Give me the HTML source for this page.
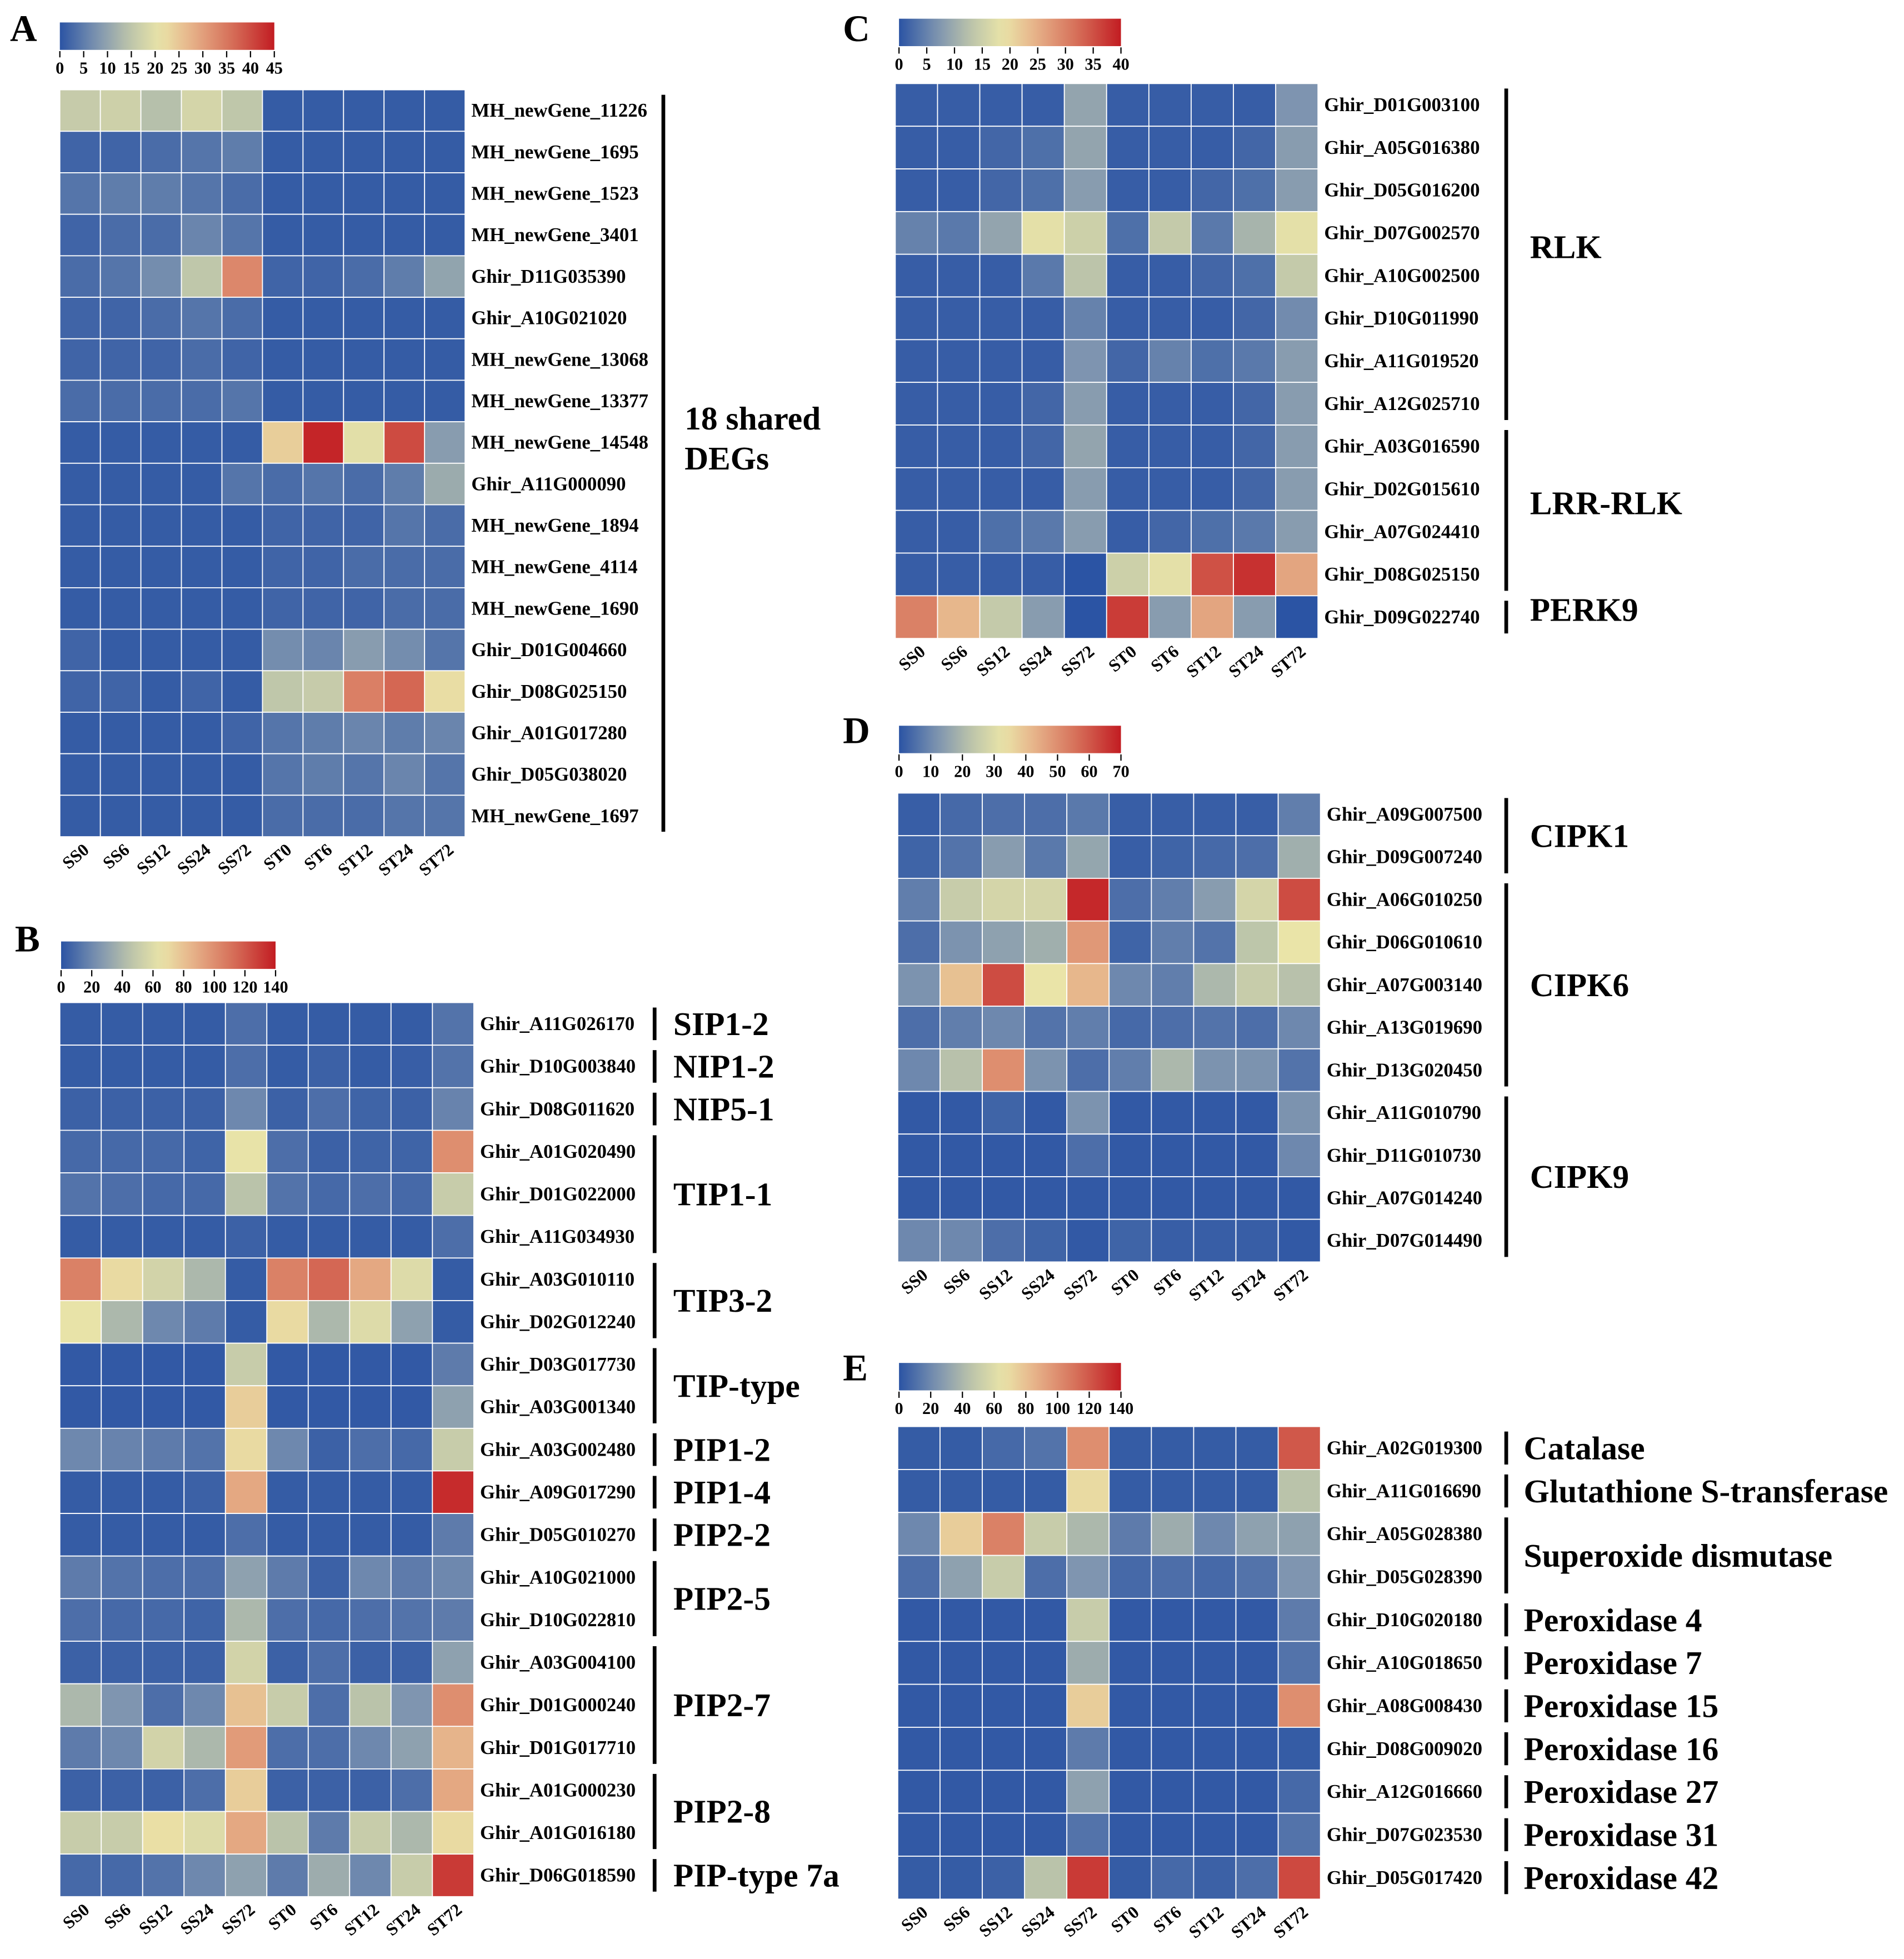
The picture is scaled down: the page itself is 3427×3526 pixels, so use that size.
<!DOCTYPE html>
<html><head><meta charset="utf-8"><style>
html,body{margin:0;padding:0;background:#fff}
svg{display:block}
text{font-family:"Liberation Serif",serif;font-weight:bold;fill:#000}
</style></head><body>
<svg id="fig" xmlns="http://www.w3.org/2000/svg" width="3427" height="3526" viewBox="0 0 1527 1571" preserveAspectRatio="none"></svg>
<script>
const columns = ["SS0","SS6","SS12","SS24","SS72","ST0","ST6","ST12","ST24","ST72"];

const genesA = ["MH_newGene_11226","MH_newGene_1695","MH_newGene_1523","MH_newGene_3401","Ghir_D11G035390","Ghir_A10G021020","MH_newGene_13068","MH_newGene_13377","MH_newGene_14548","Ghir_A11G000090","MH_newGene_1894","MH_newGene_4114","MH_newGene_1690","Ghir_D01G004660","Ghir_D08G025150","Ghir_A01G017280","Ghir_D05G038020","MH_newGene_1697"];
const valuesA = [
[16,17,14,18,15,1,1,1,1,1],[2,2,3,4,5,1,1,1,1,1],[4,5,5,4,3,1,1,1,1,1],[2,3,3,6,4,1,1,1,1,1],
[3,4,7,15,33,2,2,3,5,10],[2,2,3,4,3,1,1,1,1,1],[2,2,2,3,2,1,1,1,1,1],[3,3,3,3,4,1,1,1,1,1],
[1,1,1,1,1,24,44,20,40,9],[1,1,1,1,4,3,4,3,5,11],[1,1,1,1,1,2,2,2,4,3],[1,1,1,1,1,2,2,3,3,3],
[1,1,1,1,1,2,2,2,3,3],[2,1,1,1,1,7,6,9,7,4],[2,2,1,2,1,15,16,34,37,22],[1,1,1,1,2,4,5,6,5,6],
[1,1,1,1,1,4,5,4,6,4],[1,1,1,1,1,3,3,3,4,4]];
const ticksA = [0,5,10,15,20,25,30,35,40,45];

const genesB = ["Ghir_A11G026170","Ghir_D10G003840","Ghir_D08G011620","Ghir_A01G020490","Ghir_D01G022000","Ghir_A11G034930","Ghir_A03G010110","Ghir_D02G012240","Ghir_D03G017730","Ghir_A03G001340","Ghir_A03G002480","Ghir_A09G017290","Ghir_D05G010270","Ghir_A10G021000","Ghir_D10G022810","Ghir_A03G004100","Ghir_D01G000240","Ghir_D01G017710","Ghir_A01G000230","Ghir_A01G016180","Ghir_D06G018590"];
const valuesB = [
[3,3,3,3,10,3,3,3,3,12],[3,3,3,3,10,3,5,3,4,12],[5,5,5,5,20,5,10,6,5,18],[8,8,8,6,65,10,5,6,6,100],
[12,10,8,8,45,12,8,10,8,50],[3,3,3,3,5,3,3,3,3,10],[105,70,55,40,3,105,115,90,60,3],[65,40,20,15,3,70,40,60,30,3],
[2,2,2,2,50,2,2,2,2,15],[2,2,2,2,75,2,2,2,2,30],[20,18,15,12,70,20,5,10,8,50],[3,3,3,5,90,3,3,3,3,135],
[3,3,3,3,10,3,3,3,3,15],[15,12,10,10,30,15,5,20,15,20],[10,8,8,6,40,10,8,10,12,15],[5,5,5,5,55,5,10,5,5,30],
[40,25,10,20,80,50,10,45,25,100],[15,20,55,40,95,10,10,20,30,85],[5,5,5,10,75,5,5,5,10,90],
[50,50,68,60,90,45,15,50,40,70],[8,8,12,20,30,15,35,20,50,130]];
const ticksB = [0,20,40,60,80,100,120,140];
const groupsB = [["SIP1-2",0,0],["NIP1-2",1,1],["NIP5-1",2,2],["TIP1-1",3,5],["TIP3-2",6,7],["TIP-type",8,9],["PIP1-2",10,10],["PIP1-4",11,11],["PIP2-2",12,12],["PIP2-5",13,14],["PIP2-7",15,17],["PIP2-8",18,19],["PIP-type 7a",20,20]];

const genesC = ["Ghir_D01G003100","Ghir_A05G016380","Ghir_D05G016200","Ghir_D07G002570","Ghir_A10G002500","Ghir_D10G011990","Ghir_A11G019520","Ghir_A12G025710","Ghir_A03G016590","Ghir_D02G015610","Ghir_A07G024410","Ghir_D08G025150","Ghir_D09G022740"];
const valuesC = [
[1,1,1,1,9,1,1,1,1,7],[1,1,2,3,9,1,1,1,2,8],[1,1,2,3,8,1,1,2,3,8],[5,4,9,18,15,3,14,4,11,18],
[1,1,1,4,13,1,1,2,3,14],[1,1,1,1,5,1,1,1,2,6],[1,1,1,1,7,2,5,3,4,8],[1,1,1,2,8,1,1,1,2,8],
[1,1,1,2,9,1,1,1,2,8],[1,1,1,1,8,1,1,1,2,8],[1,1,3,4,8,1,2,3,4,8],[1,1,1,1,0,15,18,35,38,26],
[30,24,14,8,0,37,8,26,8,0]];
const ticksC = [0,5,10,15,20,25,30,35,40];
const groupsC = [["RLK",0,7],["LRR-RLK",8,11],["PERK9",12,12]];

const genesD = ["Ghir_A09G007500","Ghir_D09G007240","Ghir_A06G010250","Ghir_D06G010610","Ghir_A07G003140","Ghir_A13G019690","Ghir_D13G020450","Ghir_A11G010790","Ghir_D11G010730","Ghir_A07G014240","Ghir_D07G014490"];
const valuesD = [
[2,4,5,5,7,2,2,2,2,8],[3,6,14,7,16,2,3,4,5,18],[8,25,28,28,68,5,8,14,28,62],[5,12,15,18,48,3,8,6,23,33],
[12,40,62,33,42,10,8,20,25,22],[5,8,10,6,8,4,5,6,5,10],[10,22,50,12,5,8,20,12,12,6],[1,1,3,1,12,1,1,1,1,12],
[1,1,1,1,5,1,1,1,1,10],[1,1,1,1,1,1,1,1,1,1],[10,10,5,3,1,3,2,2,2,1]];
const ticksD = [0,10,20,30,40,50,60,70];
const groupsD = [["CIPK1",0,1],["CIPK6",2,6],["CIPK9",7,10]];

const genesE = ["Ghir_A02G019300","Ghir_A11G016690","Ghir_A05G028380","Ghir_D05G028390","Ghir_D10G020180","Ghir_A10G018650","Ghir_A08G008430","Ghir_D08G009020","Ghir_A12G016660","Ghir_D07G023530","Ghir_D05G017420"];
const valuesE = [
[3,3,8,12,100,3,3,3,3,120],[3,3,3,3,70,3,3,3,3,45],[20,75,105,50,40,15,35,20,30,30],[10,30,50,10,25,8,10,8,12,25],
[2,2,2,2,50,2,2,2,2,15],[2,2,2,2,35,2,2,2,2,12],[2,2,2,2,75,2,2,2,2,100],[2,2,2,2,15,2,2,2,2,3],
[2,2,2,2,30,2,2,2,2,8],[2,2,2,2,12,2,2,2,2,12],[3,3,5,45,130,3,8,5,10,125]];
const ticksE = [0,20,40,60,80,100,120,140];
const groupsE = [["Catalase",0,0],["Glutathione S-transferase",1,1],["Superoxide dismutase",2,3],["Peroxidase 4",4,4],["Peroxidase 7",5,5],["Peroxidase 15",6,6],["Peroxidase 16",7,7],["Peroxidase 27",8,8],["Peroxidase 31",9,9],["Peroxidase 42",10,10]];

const NS = "http://www.w3.org/2000/svg";
const svg = document.getElementById('fig');
const stops = [[0,[43,84,164]],[0.18,[128,150,176]],[0.33,[190,198,170]],[0.47,[234,228,168]],[0.62,[230,176,136]],[0.82,[212,104,84]],[1,[194,28,34]]];
function cmap(t){
  t=Math.max(0,Math.min(1,t));
  for(let i=1;i<stops.length;i++){
    if(t<=stops[i][0]){
      const a=stops[i-1],b=stops[i],f=(t-a[0])/(b[0]-a[0]);
      const c=a[1].map((v,k)=>Math.round(v+(b[1][k]-v)*f));
      return `rgb(${c[0]},${c[1]},${c[2]})`;
    }
  }
  return 'rgb(194,28,34)';
}
function el(tag, attrs, parent){
  const e=document.createElementNS(NS,tag);
  for(const k in attrs) e.setAttribute(k,attrs[k]);
  (parent||svg).appendChild(e);
  return e;
}
let gradId=0;
function panel(p){
  const g=el('g',{});
  
  
  const L=el('text',{x:p.lx,y:p.ly,'font-size':30},g);
  L.textContent=p.letter;
  
  
  const id='grad'+(gradId++);
  const defs=el('defs',{},g);
  const lg=el('linearGradient',{id:id,x1:0,x2:1,y1:0,y2:0},defs);
  for(let i=0;i<=20;i++) el('stop',{offset:i/20,'stop-color':cmap(i/20)},lg);
  const cb=el('rect',{x:p.cbx,y:p.cby,width:p.cbw,height:22,fill:`url(#${id})`},g);
  
  
  const maxv=p.ticks[p.ticks.length-1];
  p.ticks.forEach(t=>{
    const x=p.cbx+p.cbw*t/maxv;
    el('line',{x1:x,x2:x,y1:p.cby+23,y2:p.cby+28,stroke:'#000','stroke-width':1},g);
    const tx=el('text',{x:x,y:p.cby+41,'font-size':13.5,'text-anchor':'middle'},g);
    tx.textContent=t;
    
    
  });
  const nr=p.genes.length, cw=(p.x1-p.x0)/10, rh=(p.y1-p.y0)/nr;
  p.values.forEach((row,r)=>{
    row.forEach((v,c)=>{
      const rc=el('rect',{x:p.x0+c*cw,y:p.y0+r*rh,width:cw,height:rh,fill:cmap(v/maxv),stroke:'#fff','stroke-width':0.8},g);
      
      
    });
    const gt=el('text',{x:p.x1+5,y:p.y0+(r+0.5)*rh+5,'font-size':15.5},g);
    gt.textContent=p.genes[r];
    
    
  });
  columns.forEach((c,i)=>{
    const x=p.x0+(i+0.5)*cw+8, y=p.y1+12;
    const t=el('text',{x:x,y:y,'font-size':14,'text-anchor':'end',transform:`rotate(-40 ${x} ${y})`},g);
    t.textContent=c;
    
    
  });
  (p.groups||[]).forEach(gr=>{
    const ya=p.y0+gr[1]*rh+4, yb=p.y0+(gr[2]+1)*rh-4;
    const ln=el('line',{x1:p.bx,x2:p.bx,y1:ya,y2:yb,stroke:'#000','stroke-width':3},g);
    
    
    const lines=gr[0].split('\n');
    lines.forEach((s,k)=>{
      const t=el('text',{x:p.gx,y:(ya+yb)/2+9+(p.gdy||0)+(k-(lines.length-1)/2)*32,'font-size':26.5},g);
      t.textContent=s;
      
      
    });
  });
}
panel({letter:'A',lx:8,ly:33,cbx:48,cby:18,cbw:172,ticks:ticksA,genes:genesA,values:valuesA,x0:48,x1:373,y0:72,y1:671,bx:532,gx:549,gdy:-20,groups:[["18 shared\nDEGs",0,17]]});
panel({letter:'B',lx:12,ly:763,cbx:49,cby:755,cbw:172,ticks:ticksB,genes:genesB,values:valuesB,x0:48,x1:380,y0:804,y1:1521,bx:525,gx:540,groups:groupsB});
panel({letter:'C',lx:676,ly:33,cbx:721,cby:15,cbw:178,ticks:ticksC,genes:genesC,values:valuesC,x0:718,x1:1057,y0:67,y1:512,bx:1208,gx:1227,gdy:-6,groups:groupsC});
panel({letter:'D',lx:676,ly:596,cbx:721,cby:582,cbw:178,ticks:ticksD,genes:genesD,values:valuesD,x0:720,x1:1059,y0:636,y1:1012,bx:1208,gx:1227,groups:groupsD});
panel({letter:'E',lx:676,ly:1107,cbx:721,cby:1093,cbw:178,ticks:ticksE,genes:genesE,values:valuesE,x0:720,x1:1059,y0:1144,y1:1523,bx:1208,gx:1222,groups:groupsE});
</script>
</body></html>
